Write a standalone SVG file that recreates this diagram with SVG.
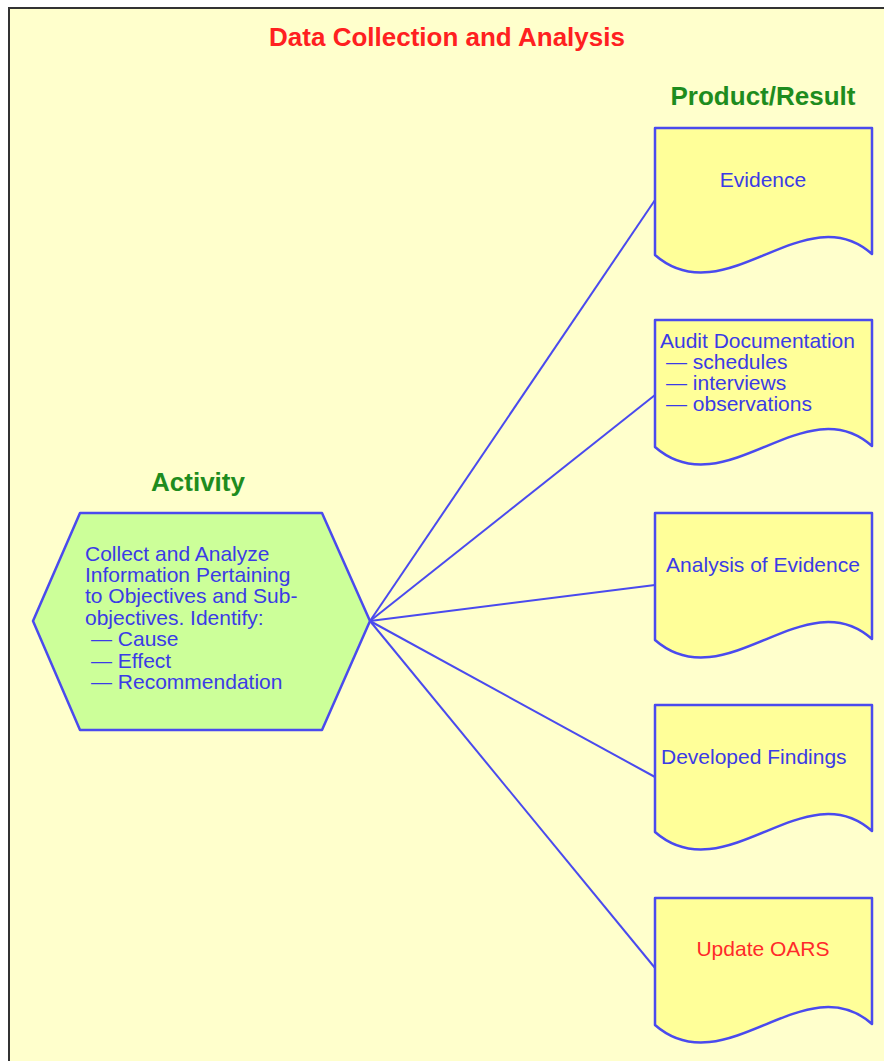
<svg xmlns="http://www.w3.org/2000/svg" width="884" height="1061" viewBox="0 0 884 1061">
<defs>
<style>
.t{font-family:"Liberation Sans",Arial,sans-serif;}
.h{font-weight:bold;font-size:26px;}
.red{fill:#ff2020;}
.grn{fill:#1e8c1e;}
.body{font-size:21px;fill:#3b3be6;}
.doc{fill:#ffff99;stroke:#4a4aee;stroke-width:2.5;stroke-linejoin:round;}
.hex{fill:#ccff99;stroke:#4a4aee;stroke-width:2.5;stroke-linejoin:round;}
.conn line{stroke:#4a4aee;stroke-width:2;}
</style>
<path id="docshape" d="M0,0 H217 V126 C150,66 70,188 0,127 Z"/>
</defs>
<rect width="884" height="1061" fill="#ffffff"/>
<rect x="9" y="8" width="900" height="1100" fill="#ffffcc" stroke="#333333" stroke-width="2"/>
<text class="t h red" x="447" y="46" text-anchor="middle">Data Collection and Analysis</text>
<text class="t h grn" x="763" y="105" text-anchor="middle">Product/Result</text>
<text class="t h grn" x="198" y="491" text-anchor="middle">Activity</text>
<g class="conn" id="connectors">
<line x1="370" y1="621" x2="655" y2="200"/>
<line x1="370" y1="621" x2="655" y2="395"/>
<line x1="370" y1="621" x2="655" y2="585"/>
<line x1="370" y1="621" x2="655" y2="777"/>
<line x1="370" y1="621" x2="655" y2="968"/>
</g>
<g id="activity">
<polygon class="hex" points="33,621 80,513 322,513 370,621 322,730 80,730"/>
<text class="t body" x="85">
<tspan x="85" y="561">Collect and Analyze</tspan>
<tspan x="85" y="582">Information Pertaining</tspan>
<tspan x="85" y="603">to Objectives and Sub-</tspan>
<tspan x="85" y="625">objectives. Identify:</tspan>
<tspan x="91" y="646">— Cause</tspan>
<tspan x="91" y="668">— Effect</tspan>
<tspan x="91" y="689">— Recommendation</tspan>
</text>
</g>
<g id="evidence">
<use href="#docshape" class="doc" x="655" y="128"/>
<text class="t body" x="763" y="187" text-anchor="middle">Evidence</text>
</g>
<g id="audit-documentation">
<use href="#docshape" class="doc" x="655" y="320"/>
<text class="t body">
<tspan x="660" y="348">Audit Documentation</tspan>
<tspan x="666" y="369">— schedules</tspan>
<tspan x="666" y="390">— interviews</tspan>
<tspan x="666" y="411">— observations</tspan>
</text>
</g>
<g id="analysis-of-evidence">
<use href="#docshape" class="doc" x="655" y="513"/>
<text class="t body" x="763" y="572" text-anchor="middle">Analysis of Evidence</text>
</g>
<g id="developed-findings">
<use href="#docshape" class="doc" x="655" y="705"/>
<text class="t body" x="661" y="764">Developed Findings</text>
</g>
<g id="update-oars">
<use href="#docshape" class="doc" x="655" y="898"/>
<text class="t body red" x="763" y="956" text-anchor="middle" style="fill:#ff2a2a">Update OARS</text>
</g>
</svg>
